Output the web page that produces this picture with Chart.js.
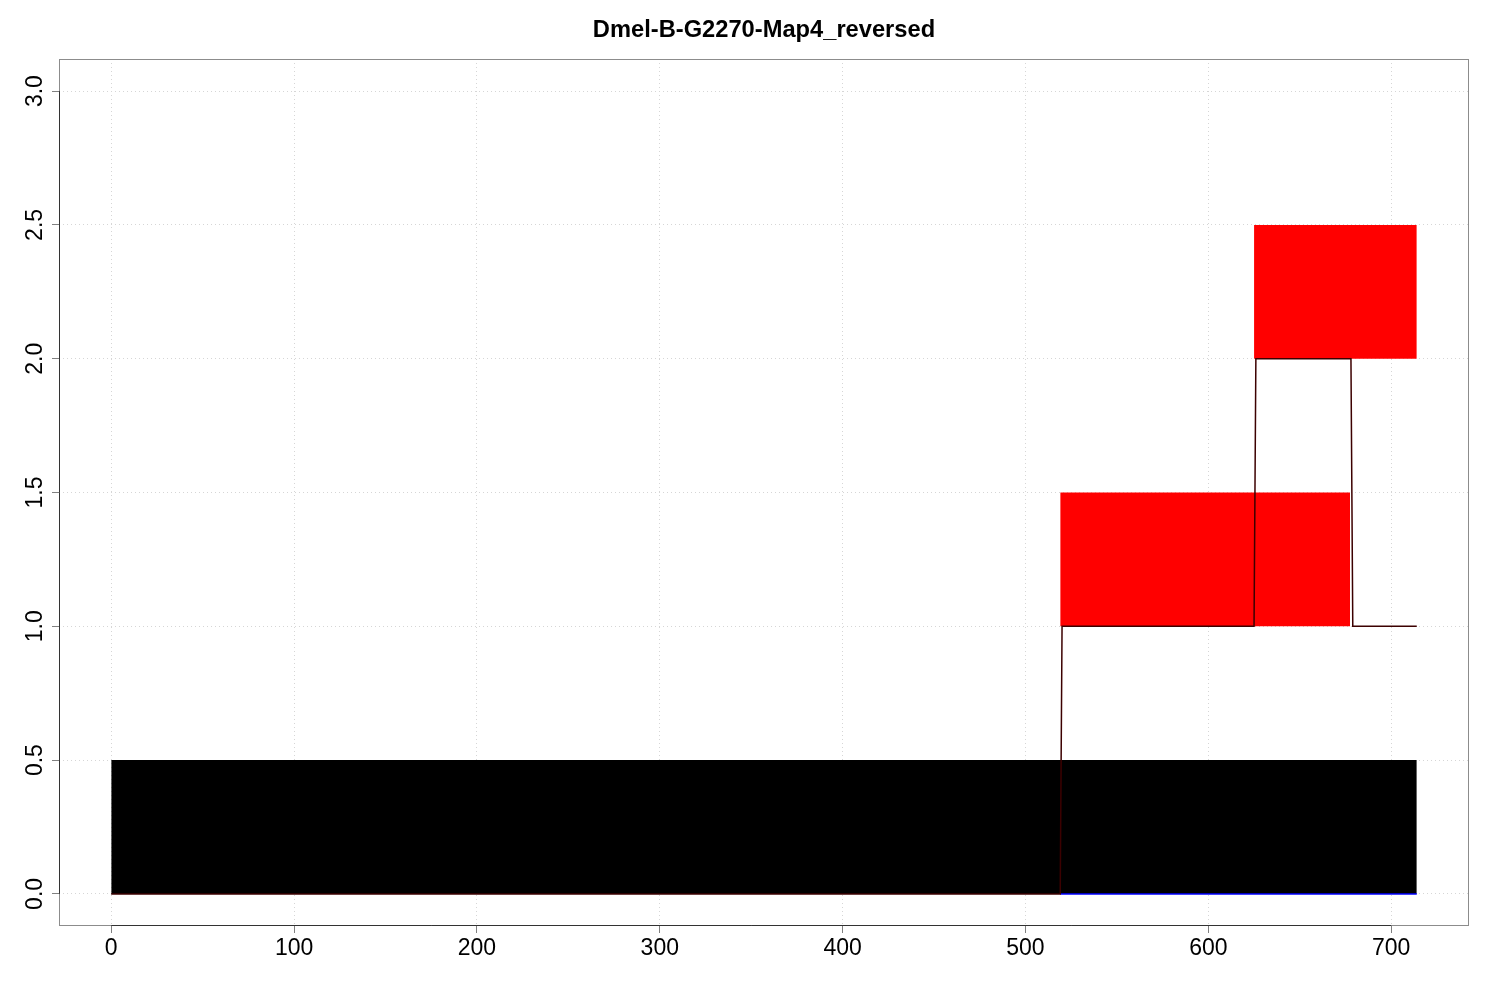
<!DOCTYPE html>
<html>
<head>
<meta charset="utf-8">
<script src="https://cdn.jsdelivr.net/npm/chart.js@4/dist/chart.umd.min.js"></script>
<style>
  html, body { margin: 0; padding: 0; background: #ffffff; }
  #wrap { width: 1500px; height: 1000px; }
</style>
</head>
<body>
<div id="wrap"><canvas id="c" width="1500" height="1000"></canvas></div>
<script>
// ---- data ----
const chartTitle = "Dmel-B-G2270-Map4_reversed";
const xTicks = [0, 100, 200, 300, 400, 500, 600, 700];
const yTicks = [0, 0.5, 1, 1.5, 2, 2.5, 3];
const xLimits = [-28.56, 742.56];
const yLimits = [-0.12, 3.12];

// rectangles (blocks)
const rectX0 = [0, 519, 625];
const rectX1 = [714, 677.5, 714];
const rectY0 = [0, 1, 2];
const rectY1 = [0.5, 1.5, 2.5];

// step line (dark red)
const stepX = [0, 519, 520, 625, 626, 678, 679, 714];
const stepY = [0, 0, 1, 1, 2, 2, 1, 1];

// blue baseline segment
const blueX = [519, 714];
const blueY = [0, 0];

// ---- styles ----
const rectColors = ['#000000', '#ff0000', '#ff0000'];
const FONT = '"Liberation Sans", Arial, Helvetica, sans-serif';

const toPts = (xs, ys) => xs.map((x, i) => ({ x: x, y: ys[i] }));

const datasets = [];
datasets.push({
  data: toPts(stepX, stepY),
  borderColor: '#3c0000',
  borderWidth: 1.5,
  pointRadius: 0,
  fill: false,
  tension: 0,
  order: 0
});
datasets.push({
  data: toPts(blueX, blueY),
  borderColor: '#0000ff',
  borderWidth: 1.5,
  pointRadius: 0,
  fill: false,
  tension: 0,
  order: 0
});
rectX0.forEach((x0, i) => {
  datasets.push({
    data: [{ x: x0, y: rectY1[i] }, { x: rectX1[i], y: rectY1[i] }],
    borderColor: 'rgba(0,0,0,0)',
    borderWidth: 1,
    backgroundColor: rectColors[i],
    pointRadius: 0,
    fill: { value: rectY0[i] },
    tension: 0,
    order: 1
  });
});

const framePlugin = {
  id: 'frame',
  afterDatasetsDraw(chart) {
    const { ctx, chartArea: a, scales } = chart;
    ctx.save();
    ctx.lineWidth = 1;
    ctx.strokeStyle = '#8c8c8c';
    ctx.strokeRect(Math.round(a.left) + 0.5, Math.round(a.top) + 0.5,
                   Math.round(a.right - a.left) - 1, Math.round(a.bottom - a.top) - 1);
    ctx.strokeStyle = '#333333';
    ctx.beginPath();
    const yb = Math.round(a.bottom) - 0.5;
    ctx.moveTo(scales.x.getPixelForValue(xTicks[0]), yb);
    ctx.lineTo(scales.x.getPixelForValue(xTicks[xTicks.length - 1]), yb);
    const xl = Math.round(a.left) + 0.5;
    ctx.moveTo(xl, scales.y.getPixelForValue(yTicks[0]));
    ctx.lineTo(xl, scales.y.getPixelForValue(yTicks[yTicks.length - 1]));
    ctx.stroke();
    ctx.restore();
  }
};

new Chart(document.getElementById('c'), {
  type: 'line',
  data: { datasets: datasets },
  plugins: [framePlugin],
  options: {
    responsive: false,
    animation: false,
    devicePixelRatio: 1,
    layout: { padding: { left: 0, right: 31, top: 0, bottom: 0 } },
    plugins: {
      legend: { display: false },
      tooltip: { enabled: false },
      title: {
        display: true,
        text: chartTitle,
        color: '#000000',
        fullSize: false,
        font: { family: FONT, size: 23.7, weight: 'bold' },
        padding: { top: 16.5, bottom: 14.06 }
      }
    },
    scales: {
      x: {
        type: 'linear',
        min: xLimits[0],
        max: xLimits[1],
        afterBuildTicks: s => { s.ticks = xTicks.map(v => ({ value: v })); },
        afterFit: s => { s.height = 74; },
        ticks: {
          color: '#000000',
          font: { family: FONT, size: 23 },
          padding: 2,
          maxRotation: 0,
          minRotation: 0,
          callback: v => String(v)
        },
        grid: {
          color: '#d6d6d6',
          lineWidth: 1,
          drawTicks: true,
          tickLength: 7,
          tickColor: '#808080',
          tickWidth: 1,
          tickBorderDash: []
        },
        border: { display: false, dash: [1, 3] }
      },
      y: {
        type: 'linear',
        min: yLimits[0],
        max: yLimits[1],
        afterBuildTicks: s => { s.ticks = yTicks.map(v => ({ value: v })); },
        afterFit: s => { s.width = 59; },
        ticks: {
          color: '#000000',
          font: { family: FONT, size: 23 },
          padding: 0,
          minRotation: 90,
          maxRotation: 90,
          crossAlign: 'center',
          callback: v => Number(v).toFixed(1)
        },
        grid: {
          color: '#d6d6d6',
          lineWidth: 1,
          drawTicks: true,
          tickLength: 7,
          tickColor: '#808080',
          tickWidth: 1,
          tickBorderDash: []
        },
        border: { display: false, dash: [1, 3] }
      }
    }
  }
});
</script>
</body>
</html>
